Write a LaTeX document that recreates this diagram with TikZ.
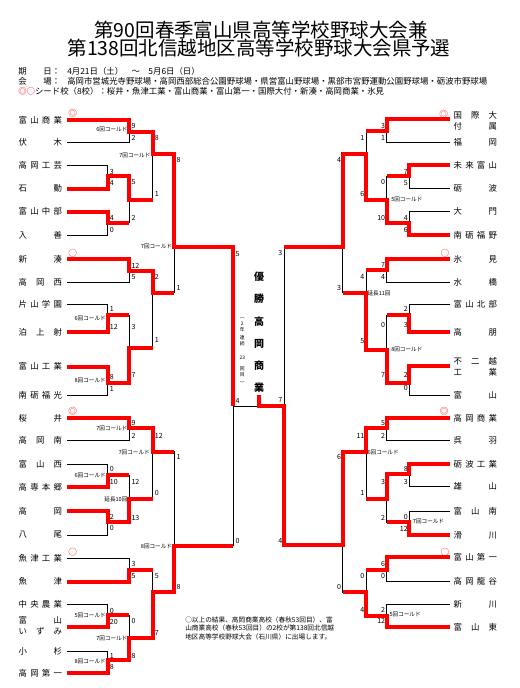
\documentclass[tikz,border=0pt]{standalone}
\usepackage{fontspec}
\setmainfont{Noto Sans CJK JP}
\tikzset{
  win/.style={draw=red, line width=3pt, line join=miter},
  lose/.style={draw=black, line width=0.7pt},
  team/.style={anchor=west, inner sep=0pt, text width=32.6pt, font=\fontsize{6.3}{8.4}\selectfont},
  lsc/.style={anchor=west, inner sep=0pt, xshift=1.5pt, font=\fontsize{5.3}{6}\selectfont},
  rsc/.style={anchor=east, inner sep=0pt, xshift=-1pt, font=\fontsize{5.3}{6}\selectfont},
  lcold/.style={anchor=east, inner sep=0pt, font=\fontsize{4.2}{5}\selectfont},
  rcold/.style={anchor=west, inner sep=0pt, font=\fontsize{4.2}{5}\selectfont},
  seed/.style={text=red, inner sep=0pt, font=\fontsize{6.5}{7}\selectfont},
  hdr/.style={anchor=west, inner sep=0pt, font=\fontsize{6.3}{7}\selectfont},
}
\begin{document}
\begin{tikzpicture}[x=0.75pt,y=-0.75pt]
\useasboundingbox (0,0) rectangle (519,688);

% title and header
\node[inner sep=0pt, font=\fontsize{14.6}{16}\selectfont] (title1) at (261,30) {第90回春季富山県高等学校野球大会兼};
\node[inner sep=0pt, font=\fontsize{14.6}{16}\selectfont] (title2) at (259,48.3) {第138回北信越地区高等学校野球大会県予選};
\node[hdr] (day) at (18,71.7) {期　　日：};
\node[hdr] (dayv) at (67,71.7) {4月21日（土）　～　5月6日（日）};
\node[hdr] (venue) at (18,81.7) {会　　場：};
\node[hdr] (venuev) at (67,81.7) {高岡市営城光寺野球場・高岡西部総合公園野球場・県営富山野球場・黒部市宮野運動公園野球場・砺波市野球場};
\node[hdr] (seeds) at (18,91.7) {\textcolor{red}{◎○}シード校（8校）：桜井・魚津工業・富山商業・富山第一・国際大付・新湊・高岡商業・氷見};

% teams
\foreach \y/\t [count=\i] in {120/{富\hfill 山\hfill 商\hfill 業}, 142.7/{伏\hfill 木}, 165.3/{高\hfill 岡\hfill 工\hfill 芸},
  188.7/{石\hfill 動}, 211.7/{富\hfill 山\hfill 中\hfill 部}, 235.3/{入\hfill 善}, 259/{新\hfill 湊},
  282.3/{高\hfill 岡\hfill 西}, 304/{片\hfill 山\hfill 学\hfill 園}, 332.3/{泊\hfill 上\hfill 射},
  366.7/{富\hfill 山\hfill 工\hfill 業}, 395.7/{南\hfill 砺\hfill 福\hfill 光}, 418.3/{桜\hfill 井},
  440.7/{高\hfill 岡\hfill 南}, 464/{富\hfill 山\hfill 西}, 487.3/{高\hfill 専\hfill 本\hfill 郷},
  511/{高\hfill 岡}, 535/{八\hfill 尾}, 558.3/{魚\hfill 津\hfill 工\hfill 業}, 581.7/{魚\hfill 津},
  604.7/{中\hfill 央\hfill 農\hfill 業}, 626/{富\hfill 山\\い\hfill ず\hfill み}, 651.3/{小\hfill 杉},
  673.3/{高\hfill 岡\hfill 第\hfill 一}}
  \node[team] (L\i) at (18.3,\y) {\t};
\foreach \y/\t [count=\i] in {120.5/{国\hfill 際\hfill 大\\付\hfill 属}, 142.7/{福\hfill 岡}, 165.3/{未\hfill 来\hfill 富\hfill 山},
  188.3/{砺\hfill 波}, 211.7/{大\hfill 門}, 235/{南\hfill 砺\hfill 福\hfill 野}, 259/{氷\hfill 見},
  282.3/{水\hfill 橋}, 304/{富\hfill 山\hfill 北\hfill 部}, 332.3/{高\hfill 朋},
  367/{不\hfill 二\hfill 越\\工\hfill 業}, 395/{富\hfill 山}, 418.3/{高\hfill 岡\hfill 商\hfill 業},
  440.7/{呉\hfill 羽}, 464/{砺\hfill 波\hfill 工\hfill 業}, 486.7/{雄\hfill 山}, 511/{富\hfill 山\hfill 南},
  535/{滑\hfill 川}, 557.3/{富\hfill 山\hfill 第\hfill 一}, 581.7/{高\hfill 岡\hfill 龍\hfill 谷},
  604.7/{新\hfill 川}, 627.3/{富\hfill 山\hfill 東}}
  \node[team] (R\i) at (453.3,\y) {\t};

% seed marks
\node[seed] (s1) at (72.7,113.3) {◎};
\node[seed] (s2) at (72.7,253.3) {○};
\node[seed] (s3) at (72.7,411.7) {◎};
\node[seed] (s4) at (72.7,552.7) {○};
\node[seed] (s5) at (443.8,114) {◎};
\node[seed] (s6) at (445,253.3) {○};
\node[seed] (s7) at (444.3,411.7) {◎};
\node[seed] (s8) at (445,552.7) {○};

% left bracket
\draw[lose] (66.7,165.3) -| (107.7,188.7) -- (66.7,188.7);
\draw[lose] (66.7,211.7) -| (107.7,235.3) -- (66.7,235.3);
\draw[lose] (66.7,304) -| (107.7,332.3) -- (66.7,332.3);
\draw[lose] (66.7,366.7) -| (107.7,395.7) -- (66.7,395.7);
\draw[lose] (66.7,464) -| (107.7,487.3) -- (66.7,487.3);
\draw[lose] (66.7,511) -| (107.7,535) -- (66.7,535);
\draw[lose] (66.7,604.7) -| (107.7,627.3) -- (66.7,627.3);
\draw[lose] (66.7,651.3) -| (107.7,673.3) -- (66.7,673.3);
\draw[lose] (66.7,120) -| (129.3,142.7) -- (66.7,142.7);
\draw[lose] (107.7,176) -| (129.3,222.7) -- (107.7,222.7);
\draw[lose] (66.7,259) -| (129.3,282.3) -- (66.7,282.3);
\draw[lose] (107.7,315.3) -| (129.3,383.3) -- (107.7,383.3);
\draw[lose] (66.7,418.3) -| (129.3,440.7) -- (66.7,440.7);
\draw[lose] (107.7,475) -| (129.3,522.3) -- (107.7,522.3);
\draw[lose] (66.7,558.3) -| (129.3,581.7) -- (66.7,581.7);
\draw[lose] (107.7,615) -| (129.3,660) -- (107.7,660);
\draw[lose] (129.3,131.7) -| (152.7,200) -- (129.3,200);
\draw[lose] (129.3,271) -| (152.7,348.3) -- (129.3,348.3);
\draw[lose] (129.3,428.3) -| (152.7,499.3) -- (129.3,499.3);
\draw[lose] (129.3,570) -| (152.7,638.3) -- (129.3,638.3);
\draw[lose] (152.7,154) -| (174.3,292.7) -- (152.7,292.7);
\draw[lose] (152.7,451.7) -| (174.3,592.3) -- (152.7,592.3);
\draw[lose] (174.3,246.7) -| (233.3,545.7) -- (174.3,545.7);
\draw[lose] (233.3,406) -- (284,406);

% right bracket
\draw[lose] (450,165.3) -| (409.3,188.3) -- (450,188.3);
\draw[lose] (450,211.7) -| (409.3,235) -- (450,235);
\draw[lose] (450,304) -| (409.3,332.3) -- (450,332.3);
\draw[lose] (450,366) -| (409.3,395) -- (450,395);
\draw[lose] (450,464) -| (409.3,486.7) -- (450,486.7);
\draw[lose] (450,511) -| (409.3,535) -- (450,535);
\draw[lose] (450,119) -| (386.7,142.7) -- (450,142.7);
\draw[lose] (409.3,176) -| (386.7,222.7) -- (409.3,222.7);
\draw[lose] (450,259) -| (386.7,282.3) -- (450,282.3);
\draw[lose] (409.3,315) -| (386.7,383.3) -- (409.3,383.3);
\draw[lose] (450,418.3) -| (386.7,440.7) -- (450,440.7);
\draw[lose] (409.3,474.3) -| (386.7,522.3) -- (409.3,522.3);
\draw[lose] (450,557.3) -| (386.7,581.7) -- (450,581.7);
\draw[lose] (450,604.7) -| (386.7,627.3) -- (450,627.3);
\draw[lose] (386.7,131) -| (366,200) -- (386.7,200);
\draw[lose] (386.7,270) -| (366,350) -- (386.7,350);
\draw[lose] (386.7,428.3) -| (366,499.3) -- (386.7,499.3);
\draw[lose] (386.7,570) -| (366,615.7) -- (386.7,615.7);
\draw[lose] (366,154.3) -| (342.7,292.7) -- (366,292.7);
\draw[lose] (366,451.7) -| (342.7,592.3) -- (366,592.3);
\draw[lose] (342.7,246.7) -| (284,545.3) -- (342.7,545.3);

% winners, left
\draw[win] (66.7,120) -- (129.3,120) -- (129.3,131.7) -- (152.7,131.7) -- (152.7,154) -- (174.3,154) -- (174.3,246.7) -- (233.3,246.7) -- (233.3,406);
\draw[win] (66.7,188.7) -- (107.7,188.7) -- (107.7,176) -- (129.3,176) -- (129.3,200) -- (152.7,200);
\draw[win] (66.7,211.7) -- (107.7,211.7) -- (107.7,222.7) -- (129.3,222.7);
\draw[win] (66.7,259) -- (129.3,259) -- (129.3,271) -- (152.7,271) -- (152.7,292.7) -- (174.3,292.7);
\draw[win] (66.7,332.3) -- (107.7,332.3) -- (107.7,315.3) -- (129.3,315.3);
\draw[win] (66.7,366.7) -- (107.7,366.7) -- (107.7,383.3) -- (129.3,383.3) -- (129.3,348.3) -- (152.7,348.3);
\draw[win] (66.7,418.3) -- (129.3,418.3) -- (129.3,428.3) -- (152.7,428.3) -- (152.7,451.7) -- (174.3,451.7);
\draw[win] (66.7,487.3) -- (107.7,487.3) -- (107.7,475) -- (129.3,475);
\draw[win] (66.7,511) -- (107.7,511) -- (107.7,522.3) -- (129.3,522.3) -- (129.3,499.3) -- (152.7,499.3);
\draw[win] (66.7,581.7) -- (129.3,581.7) -- (129.3,570) -- (152.7,570);
\draw[win] (66.7,627.3) -- (107.7,627.3) -- (107.7,615) -- (129.3,615);
\draw[win] (66.7,673.3) -- (107.7,673.3) -- (107.7,660) -- (129.3,660) -- (129.3,638.3) -- (152.7,638.3) -- (152.7,592.3) -- (174.3,592.3) -- (174.3,545.7) -- (233.3,545.7);

% winners, right
\draw[win] (450,119) -- (386.7,119) -- (386.7,131) -- (366,131);
\draw[win] (450,235) -- (409.3,235) -- (409.3,222.7) -- (386.7,222.7) -- (386.7,200) -- (366,200) -- (366,154.3) -- (342.7,154.3) -- (342.7,246.7) -- (284,246.7);
\draw[win] (450,165.3) -- (409.3,165.3) -- (409.3,176) -- (386.7,176);
\draw[win] (450,259) -- (386.7,259) -- (386.7,270) -- (366,270);
\draw[win] (450,332.3) -- (409.3,332.3) -- (409.3,315) -- (386.7,315);
\draw[win] (450,366) -- (409.3,366) -- (409.3,383.3) -- (386.7,383.3) -- (386.7,350) -- (366,350) -- (366,292.7) -- (342.7,292.7);
\draw[win] (450,418.3) -- (386.7,418.3) -- (386.7,428.3) -- (366,428.3) -- (366,451.7) -- (342.7,451.7) -- (342.7,545.3) -- (284,545.3) -- (284,406) -- (259,406) -- (259,395);
\draw[win] (450,464) -- (409.3,464) -- (409.3,474.3) -- (386.7,474.3) -- (386.7,499.3) -- (366,499.3);
\draw[win] (450,535) -- (409.3,535) -- (409.3,522.3) -- (386.7,522.3);
\draw[win] (450,557.3) -- (386.7,557.3) -- (386.7,570) -- (366,570);
\draw[win] (450,627.3) -- (386.7,627.3) -- (386.7,615.7) -- (366,615.7) -- (366,592.3) -- (342.7,592.3);

% scores, left
\foreach \x/\y/\s [count=\k] in {107.7/172/3, 107.7/183.3/4, 107.7/217.7/4, 107.7/229.7/0, 107.7/309.3/1,
  107.7/326.7/12, 107.7/377.3/8, 107.7/389.3/1, 107.7/469.3/0, 107.7/481.7/10, 107.7/516.7/2,
  107.7/528.3/0, 107.7/610.7/0, 107.7/622.3/20, 107.7/655.7/1, 107.7/666.7/8,
  129.3/126/9, 129.3/137.7/2, 129.3/182.3/5, 129.3/217.7/2, 129.3/265.7/12, 129.3/276.7/5,
  129.3/326.7/3, 129.3/375/7, 129.3/423.3/9, 129.3/435.7/2, 129.3/481.7/12, 129.3/517.7/13,
  129.3/564.3/3, 129.3/575.7/5, 129.3/620.7/0, 129.3/655.7/8,
  152.7/137.7/8, 152.7/194.3/1, 152.7/276.7/2, 152.7/340/1, 152.7/435.7/12, 152.7/493.3/0,
  152.7/575.7/5, 152.7/633.3/7,
  174.3/160/8, 174.3/288.3/1, 174.3/457.3/1, 174.3/586.7/8,
  233.3/254/5, 233.3/400.7/4, 233.3/540.7/0}
  \node[lsc] (ls\k) at (\x,\y) {\s};

% scores, right
\foreach \x/\y/\s [count=\k] in {409.3/172/7, 409.3/183.3/5, 409.3/217.7/4, 409.3/229.7/6, 409.3/309.3/2,
  409.3/325/3, 409.3/375/2, 409.3/388/0, 409.3/469.3/8, 409.3/481.7/3, 409.3/517.3/0, 409.3/529.3/12,
  386.7/126/3, 386.7/137.7/1, 386.7/182.3/0, 386.7/217.7/10, 386.7/265/7, 386.7/276.7/4,
  386.7/325/0, 386.7/375/7, 386.7/423.3/5, 386.7/435.7/2, 386.7/481.7/3, 386.7/517.7/2,
  386.7/564.3/6, 386.7/575.7/0, 386.7/610/2, 386.7/621/12,
  366/137.7/1, 366/194.3/6, 366/276.7/4, 366/340.7/5, 366/435.7/11, 366/493.3/1, 366/575.7/0, 366/610/4,
  342.7/160/4, 342.7/288.3/3, 342.7/457.3/6, 342.7/586.7/0,
  284/253.3/3, 284/400/7, 284/540.7/4}
  \node[rsc] (rs\k) at (\x,\y) {\s};

% called games
\foreach \x/\y/\t [count=\k] in {127.7/129.7/6回コールド, 150.7/155/7回コールド, 172.3/246.7/7回コールド,
  106/318.7/6回コールド, 106/380/8回コールド, 127.7/428.3/7回コールド, 150/452.3/7回コールド,
  106/475/6回コールド, 127.7/499.7/延長10回, 172.3/546.7/8回コールド, 106/615/5回コールド,
  127.7/638.3/7回コールド, 106/661/8回コールド}
  \node[lcold] (lc\k) at (\x,\y) {\t};
\foreach \x/\y/\t [count=\k] in {391/199.3/5回コールド, 367.3/293.3/延長11回, 391/349/8回コールド,
  367.3/452.7/6回コールド, 412.7/521.7/7回コールド, 389.3/614.3/5回コールド}
  \node[rcold] (rc\k) at (\x,\y) {\t};

% champion
\node[inner sep=0pt, align=center, font=\fontsize{7.5}{16.7}\selectfont\bfseries] (champ) at (259,332.5) {優\\勝\\高\\岡\\商\\業};
\foreach \y/\t [count=\k] in {318.3/︵, 323.3/2, 330/年, 337.7/連, 344/続, 357.3/23, 368.3/回, 375/目, 383.3/︶}
  \node[inner sep=0pt, font=\fontsize{3.6}{4}\selectfont] (v\k) at (242.3,\y) {\t};

% note
\node[anchor=west, inner sep=0pt, align=left, font=\fontsize{5}{6.4}\selectfont] (note) at (185,628) {○以上の結果、高岡商業高校（春秋53回目）、富\\山商業高校（春秋53回目）の2校が第138回北信越\\地区高等学校野球大会（石川県）に出場します。};
\end{tikzpicture}
\end{document}
